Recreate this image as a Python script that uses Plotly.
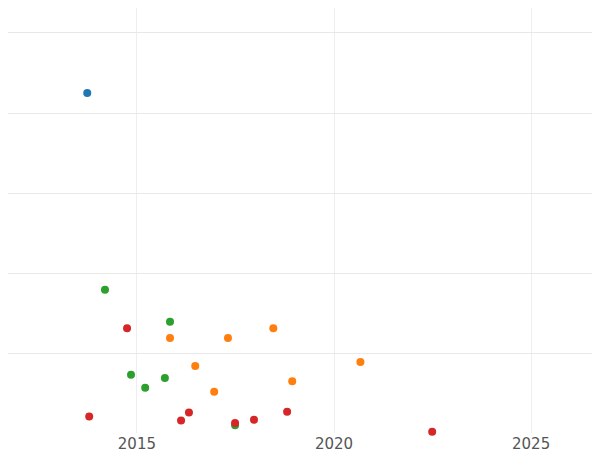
import plotly.graph_objects as go

blue_x = [2013.74]; blue_y = [42.5]
green_x = [2014.19, 2015.84, 2014.85, 2015.21, 2015.71, 2017.49]
green_y = [18.0, 14.0, 7.4, 5.8, 7.0, 1.1]
red_x = [2014.75, 2013.79, 2016.12, 2016.32, 2017.49, 2017.97, 2018.81, 2022.49]
red_y = [13.2, 2.2, 1.7, 2.7, 1.4, 1.8, 2.8, 0.3]
orange_x = [2015.84, 2017.31, 2018.46, 2016.48, 2016.96, 2018.94, 2020.67]
orange_y = [12.0, 12.0, 13.2, 8.5, 5.3, 6.6, 9.0]

fig = go.Figure()
for xs, ys, c in [(blue_x, blue_y, "#1f77b4"), (orange_x, orange_y, "#ff7f0e"),
                  (green_x, green_y, "#2ca02c"), (red_x, red_y, "#d62728")]:
    fig.add_trace(go.Scatter(x=xs, y=ys, mode="markers", marker=dict(color=c, size=8), showlegend=False,
                             cliponaxis=False))

fig.update_layout(width=600, height=450, margin=dict(l=0, r=0, t=0, b=25, pad=0, autoexpand=False),
                  plot_bgcolor="white", paper_bgcolor="white",
                  font=dict(family="DejaVu Sans"))
fig.update_xaxes(range=[2011.73, 2026.95], tickvals=[2015, 2020, 2025], showgrid=True,
                 gridcolor="#eeeeee", zeroline=False, automargin=False, ticklen=0,
                 tickfont=dict(size=15, color="#555"))
fig.update_yaxes(range=[0.15, 53.1], dtick=10, showgrid=True, gridcolor="#e8e8e8",
                 showticklabels=False, zeroline=False, automargin=False)
fig.write_html("out.html")
